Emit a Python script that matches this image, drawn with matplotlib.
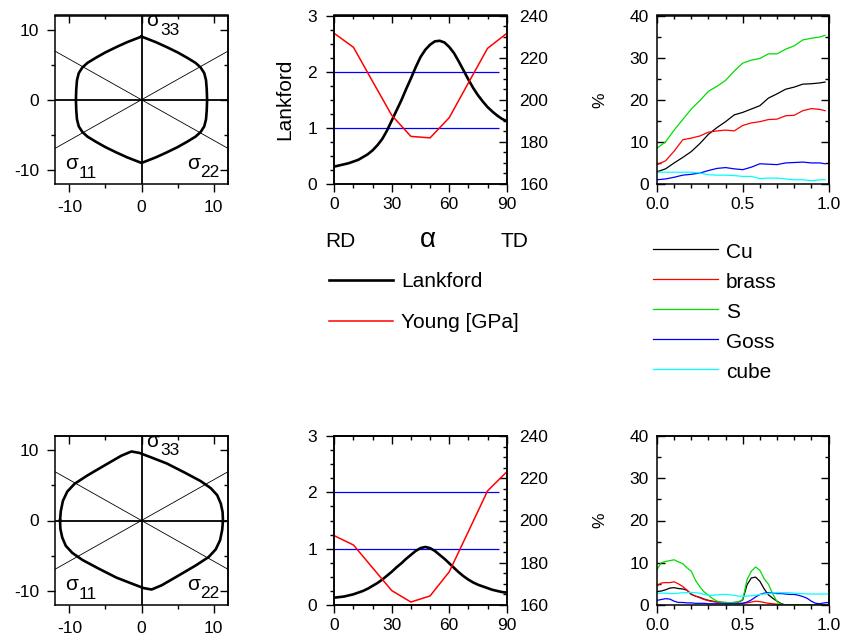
import numpy as np
import matplotlib
matplotlib.use("Agg")
import matplotlib.pyplot as plt
from matplotlib.ticker import MultipleLocator
from matplotlib.lines import Line2D

plt.rcParams['font.family'] = ['Liberation Sans', 'DejaVu Sans']
plt.rcParams['font.size'] = 12.5
plt.rcParams['axes.linewidth'] = 1.1
plt.rcParams['axes.unicode_minus'] = False

# ---- data ----
# yield surfaces in the pi-plane (top and bottom sample)
surf_top_x = [0, 2.0, 3.5, 5.0, 6.3, 7.5, 8.2, 8.7, 8.95, 9.05, 9.1, 9.05, 8.95, 8.7, 8.2, 7.5, 6.3, 5.0, 3.5, 2.0,
              0, -2.0, -3.5, -5.0, -6.3, -7.5, -8.2, -8.7, -8.95, -9.05, -9.1, -9.05, -8.95, -8.7, -8.2, -7.5,
              -6.3, -5.0, -3.5, -2.0, 0]
surf_top_y = [9.0, 8.2, 7.5, 6.75, 6.0, 5.25, 4.6, 3.8, 2.8, 1.5, 0, -1.5, -2.8, -3.8, -4.6, -5.25, -6.0, -6.75, -7.5,
              -8.2, -9.0, -8.2, -7.5, -6.75, -6.0, -5.25, -4.6, -3.8, -2.8, -1.5, 0, 1.5, 2.8, 3.8, 4.6, 5.25,
              6.0, 6.75, 7.5, 8.2, 9.0]
surf_bot_x = [-11.3, -11.2, -10.9, -10.3, -9.3, -7.5, -5.0, -2.8, -1.4, -0.3, 1.5, 3.5, 6.0, 8.2, 9.6, 10.5, 11.0,
              11.25, 11.3, 11.2, 10.9, 10.3, 9.3, 7.5, 5.0, 2.8, 1.4, 0.3, -1.5, -3.5, -6.0, -8.2, -9.6, -10.5,
              -11.0, -11.25, -11.3]
surf_bot_y = [0, 1.3, 2.8, 4.1, 5.2, 6.4, 7.9, 9.2, 9.8, 9.6, 8.9, 8.1, 6.8, 5.6, 4.6, 3.6, 2.4, 1.2, 0, -1.3, -2.8,
              -4.1, -5.2, -6.4, -7.9, -9.2, -9.8, -9.6, -8.9, -8.1, -6.8, -5.6, -4.6, -3.6, -2.4, -1.2, 0]

# Lankford coefficient vs angle to RD
lank_x = [0, 2.5, 5, 7.5, 10, 12.5, 15, 17.5, 20, 22.5, 25, 27.5, 30, 32.5, 35, 37.5, 40, 42.5, 45, 47.5, 50,
          52.5, 55, 57.5, 60, 62.5, 65, 67.5, 70, 72.5, 75, 77.5, 80, 82.5, 85, 87.5, 90]
lank_top = [0.31, 0.33, 0.35, 0.37, 0.40, 0.43, 0.48, 0.53, 0.60, 0.69, 0.80, 0.95, 1.13, 1.31, 1.49, 1.69, 1.88,
            2.08, 2.26, 2.39, 2.48, 2.54, 2.55, 2.52, 2.44, 2.33, 2.18, 2.02, 1.86, 1.71, 1.58, 1.47, 1.37, 1.29,
            1.22, 1.16, 1.12]
lank_bot = [0.13, 0.14, 0.15, 0.17, 0.19, 0.22, 0.25, 0.29, 0.34, 0.39, 0.45, 0.52, 0.59, 0.67, 0.74, 0.82, 0.89,
            0.96, 1.01, 1.03, 1.01, 0.96, 0.89, 0.82, 0.74, 0.66, 0.58, 0.51, 0.45, 0.40, 0.36, 0.33, 0.30, 0.27,
            0.25, 0.23, 0.22]

# Young modulus [GPa]
young_x = [0, 10, 20, 30, 40, 50, 60, 70, 80, 90]
young_top = [231.5, 224.9, 208.7, 192.6, 182.6, 181.9, 191.5, 208.0, 224.4, 231.5]
young_bot = [192.8, 188.4, 177.6, 166.8, 161.4, 164.3, 175.7, 194.8, 214.0, 223.0]

ref_levels = [1, 2]
ref_end = 86

# texture component fractions [%]
frac_top = [0, 0.05, 0.10, 0.15, 0.20, 0.25, 0.30, 0.35, 0.40, 0.45, 0.50, 0.55, 0.60, 0.65, 0.70, 0.75, 0.80,
            0.85, 0.90, 0.95, 0.98]
cu_top = [2.9, 3.6, 5.0, 6.3, 7.7, 9.6, 11.8, 13.4, 14.8, 16.4, 17.0, 17.8, 18.6, 20.4, 21.4, 22.5, 23.0, 23.7,
          23.8, 24.0, 24.2]
brass_top = [4.6, 5.5, 7.8, 10.5, 10.9, 11.4, 12.3, 12.6, 12.8, 12.6, 13.9, 14.5, 14.8, 15.3, 15.4, 16.2, 16.3,
             17.4, 17.9, 17.7, 17.4]
s_top = [8.5, 10.0, 12.8, 15.3, 17.8, 19.8, 22.0, 23.2, 24.6, 26.8, 28.7, 29.4, 29.8, 30.9, 30.9, 32.0, 32.8,
         34.2, 34.6, 34.9, 35.3]
goss_top = [1.0, 1.2, 1.6, 2.1, 2.3, 2.6, 3.2, 3.7, 3.9, 3.6, 3.4, 4.0, 4.8, 4.7, 4.6, 5.0, 5.1, 5.2, 5.0, 5.0, 4.8]
cube_top = [2.8, 2.8, 2.8, 2.8, 2.8, 2.6, 2.2, 2.1, 2.1, 2.0, 1.8, 1.8, 1.3, 1.4, 1.4, 1.2, 1.0, 1.0, 0.8, 1.0, 1.0]

frac_bot = np.linspace(0, 1, 41)
cu_bot = [3.2, 3.3, 3.6, 4.0, 4.1, 3.9, 3.8, 3.5, 2.5, 2.1, 1.8, 1.4, 1.1, 0.9, 0.7, 0.6, 0.5, 0.5, 0.6, 0.7,
          1.2, 4.8, 6.4, 6.6, 5.6, 3.8, 2.4, 1.6, 0.9, 0.3, 0, 0, 0, 0, 0, 0, 0, 0, 0, 0, 0]
brass_bot = [4.5, 5.2, 5.3, 5.3, 5.5, 5.0, 4.4, 3.5, 2.6, 2.1, 1.7, 1.3, 1.0, 0.8, 0.7, 0.6, 0.6, 0.5, 0.5, 0.4,
             0.4, 0.5, 0.7, 0.9, 0.8, 0.6, 0.4, 0.3, 0.2, 0.1, 0, 0, 0, 0, 0, 0, 0, 0, 0, 0, 0]
s_bot = [8.4, 10.0, 10.3, 10.5, 10.7, 10.2, 9.8, 8.8, 8.0, 5.8, 4.3, 3.1, 2.3, 1.5, 0.9, 0.7, 0.6, 0.55, 0.6, 0.7,
         1.3, 6.0, 8.0, 9.0, 8.2, 6.2, 4.9, 2.6, 0.8, 0.1, 0, 0, 0, 0, 0, 0, 0, 0, 0, 0, 0]
goss_bot = [1.1, 1.3, 1.5, 1.4, 0.9, 0.6, 0.6, 0.5, 0.5, 0.4, 0.4, 0.4, 0.3, 0.3, 0.3, 0.3, 0.3, 0.3, 0.3, 0.3,
            0.4, 0.7, 1.2, 1.9, 2.5, 2.8, 2.9, 2.8, 2.7, 2.7, 2.6, 2.5, 2.5, 2.3, 2.0, 1.6, 0.9, 0.4, 0.3, 0.5, 0.6]
cube_bot = [2.8, 2.8, 2.8, 2.7, 2.7, 2.8, 2.9, 2.9, 3.0, 2.9, 2.8, 2.5, 2.3, 2.3, 2.4, 2.5, 2.5, 2.4, 2.3, 2.1,
            2.1, 2.1, 2.2, 2.3, 2.5, 2.6, 2.7, 2.8, 2.9, 2.9, 2.9, 2.9, 2.8, 2.7, 2.7, 2.6, 2.6, 2.6, 2.6, 2.6, 2.6]

comp_names = ["Cu", "brass", "S", "Goss", "cube"]
comp_colors = ["black", "red", "#00dd00", "blue", "cyan"]

W, H = 847, 643
fig = plt.figure(figsize=(W / 100, H / 100), dpi=100)


def box(x0, y0, x1, y1):
    return [x0 / W, 1 - y1 / H, (x1 - x0) / W, (y1 - y0) / H]


def fpos(x, y):
    return x / W, 1 - y / H


def origin_ticks(ax, xmaj, xmin, ymaj, ymin, ydir="out", xpad=4.0, ypad=5.0, right=True):
    ax.xaxis.set_major_locator(MultipleLocator(xmaj))
    ax.xaxis.set_minor_locator(MultipleLocator(xmin))
    ax.yaxis.set_major_locator(MultipleLocator(ymaj))
    ax.yaxis.set_minor_locator(MultipleLocator(ymin))
    ax.tick_params(which="both", top=False, right=False, direction="out", width=1.0)
    ax.tick_params(which="major", length=6)
    ax.tick_params(which="minor", length=3)
    ax.tick_params(axis="x", pad=xpad)
    ax.tick_params(axis="y", pad=ypad, direction=ydir, which="both")
    top = ax.secondary_xaxis("top")
    top.xaxis.set_major_locator(MultipleLocator(xmaj))
    top.xaxis.set_minor_locator(MultipleLocator(xmin))
    top.tick_params(which="both", direction="in", labeltop=False, width=1.0)
    top.tick_params(which="major", length=6)
    top.tick_params(which="minor", length=3)
    if right:
        rt = ax.secondary_yaxis("right")
        rt.yaxis.set_major_locator(MultipleLocator(ymaj))
        rt.yaxis.set_minor_locator(MultipleLocator(ymin))
        rt.tick_params(which="both", direction="in", labelright=False, width=1.0)
        rt.tick_params(which="major", length=6)
        rt.tick_params(which="minor", length=3)


def surface_panel(rect, sx, sy):
    ax = fig.add_axes(rect)
    ax.plot(sx, sy, color="black", lw=1.9)
    ax.axhline(0, color="black", lw=1.3)
    ax.axvline(0, color="black", lw=1.3)
    t = np.tan(np.radians(30))
    ax.axline((0, 0), slope=t, color="black", lw=0.6)
    ax.axline((0, 0), slope=-t, color="black", lw=0.6)
    ax.set_xlim(-12, 12)
    ax.set_ylim(-12, 12)
    origin_ticks(ax, 10, 5, 10, 5, xpad=5.5, ypad=5.5)
    for sx0, sy0, sub in [(0.7, 10.5, "33"), (-10.6, -9.9, "11"), (6.3, -9.8, "22")]:
        ax.text(sx0, sy0, "σ", fontsize=15, va="baseline", ha="left", clip_on=False)
        ax.text(sx0 + 1.85, sy0 - 1.25, sub, fontsize=12.5, va="baseline", ha="left", clip_on=False)
    return ax


def lankford_panel(rect, lank, young, label=False):
    ax = fig.add_axes(rect)
    ax.hlines(ref_levels, 0, ref_end, color="blue", lw=0.9)
    ax.plot(lank_x, lank, color="black", lw=1.9)
    ax.set_xlim(0, 90)
    ax.set_ylim(0, 3)
    origin_ticks(ax, 30, 10, 1, 0.25, xpad=3.0, ypad=6.5, right=False)
    ax2 = ax.twinx()
    ax2.plot(young_x, young, color="red", lw=1.1)
    ax2.set_ylim(160, 240)
    ax2.yaxis.set_major_locator(MultipleLocator(20))
    ax2.yaxis.set_minor_locator(MultipleLocator(5))
    ax2.tick_params(which="both", direction="in", width=1.0, pad=9)
    ax2.tick_params(which="major", length=6)
    ax2.tick_params(which="minor", length=3)
    if label:
        ax.set_ylabel("Lankford", fontsize=15, labelpad=9)
    return ax


def texture_panel(rect, x, series):
    ax = fig.add_axes(rect)
    for vals, c in zip(series, comp_colors):
        ax.plot(x, vals, color=c, lw=0.9)
    ax.set_xlim(0, 1)
    ax.set_ylim(0, 40)
    origin_ticks(ax, 0.5, 0.1, 10, 5, ydir="in", xpad=3.5, ypad=6)
    ax.set_ylabel("%", fontsize=12.5, labelpad=16)
    return ax


# top row
surface_panel(box(55, 15.5, 228, 184), surf_top_x, surf_top_y)
lankford_panel(box(334.3, 15.5, 506.7, 184), lank_top, young_top, label=True)
texture_panel(box(657, 15.5, 828.5, 184), frac_top, [cu_top, brass_top, s_top, goss_top, cube_top])

# bottom row
surface_panel(box(55, 436, 228, 605), surf_bot_x, surf_bot_y)
lankford_panel(box(334.3, 436, 506.7, 605), lank_bot, young_bot)
texture_panel(box(657, 436, 828.5, 605), frac_bot, [cu_bot, brass_bot, s_bot, goss_bot, cube_bot])

# angle annotation under the top Lankford panel
fig.text(*fpos(340, 247), "RD", fontsize=15, ha="center", va="baseline")
fig.text(*fpos(428, 247), "α", fontsize=20, ha="center", va="baseline")
fig.text(*fpos(514, 247), "TD", fontsize=15, ha="center", va="baseline")

# legend for Lankford / Young
for y, c, lw, lab in [(280, "black", 1.9, "Lankford"), (321, "red", 1.1, "Young [GPa]")]:
    (x0, y0), (x1, _) = fpos(329, y), fpos(393, y)
    fig.add_artist(Line2D([x0, x1], [y0, y0], color=c, lw=lw, transform=fig.transFigure))
    fig.text(*fpos(401, y + 7.5), lab, fontsize=15, ha="left", va="baseline")

# legend for texture components
for i, (name, c) in enumerate(zip(comp_names, comp_colors)):
    y = 249.3 + 30 * i
    (x0, y0), (x1, _) = fpos(653, y), fpos(718, y)
    fig.add_artist(Line2D([x0, x1], [y0, y0], color=c, lw=0.9, transform=fig.transFigure))
    fig.text(*fpos(726, y + 8.3), name, fontsize=15, ha="left", va="baseline")

fig.savefig("out.png", dpi=100)
